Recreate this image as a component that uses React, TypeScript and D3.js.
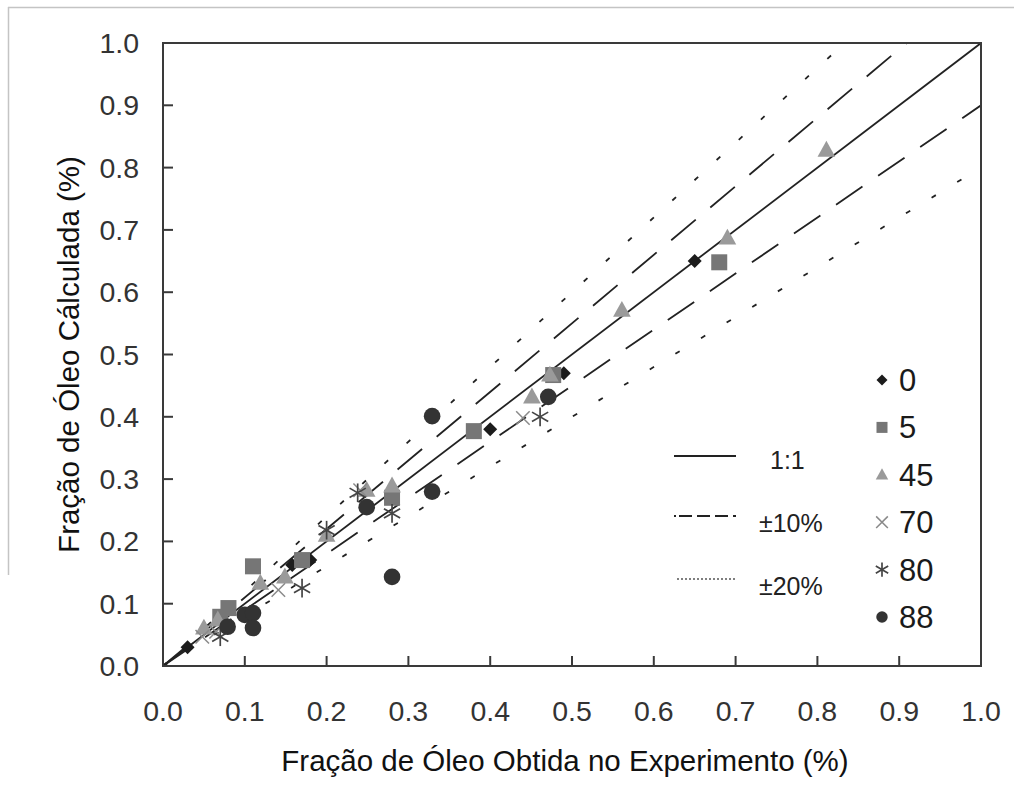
import React from 'react';
import * as d3 from 'd3';

// ---- data ----
const X_TICKS = [0, 0.1, 0.2, 0.3, 0.4, 0.5, 0.6, 0.7, 0.8, 0.9, 1.0];
const Y_TICKS = [0, 0.1, 0.2, 0.3, 0.4, 0.5, 0.6, 0.7, 0.8, 0.9, 1.0];

const series0: [number, number][] = [[0.03, 0.03], [0.158, 0.162], [0.18, 0.17], [0.40, 0.38], [0.49, 0.47], [0.65, 0.65]];
const series5: [number, number][] = [[0.07, 0.079], [0.08, 0.093], [0.11, 0.16], [0.17, 0.17], [0.28, 0.27], [0.38, 0.377], [0.477, 0.467], [0.68, 0.648]];
const series45: [number, number][] = [[0.05, 0.061], [0.067, 0.074], [0.119, 0.133], [0.149, 0.143], [0.20, 0.21], [0.249, 0.282], [0.28, 0.289], [0.451, 0.432], [0.473, 0.467], [0.561, 0.571], [0.69, 0.687], [0.811, 0.828]];
const series70: [number, number][] = [[0.048, 0.047], [0.065, 0.055], [0.141, 0.122], [0.241, 0.282], [0.44, 0.398]];
const series80: [number, number][] = [[0.07, 0.047], [0.17, 0.125], [0.20, 0.218], [0.238, 0.278], [0.28, 0.245], [0.461, 0.40]];
const series88: [number, number][] = [[0.079, 0.063], [0.10, 0.082], [0.11, 0.085], [0.11, 0.061], [0.249, 0.255], [0.28, 0.143], [0.329, 0.28], [0.329, 0.401], [0.471, 0.432]];

const SERIES_NAMES = ['0', '5', '45', '70', '80', '88'];
const SERIES_SHAPES = ['diamond', 'square', 'triangle', 'x', 'asterisk', 'circle'];
const SERIES_COLORS = ['#1c1c1c', '#767676', '#9a9a9a', '#8a8a8a', '#444444', '#333333'];
const SERIES_DATA = [series0, series5, series45, series70, series80, series88];

const REF_FACTORS = [1, 1.1, 0.9, 1.2, 0.8];
const REF_STYLES = ['solid', 'dash', 'dash', 'dot', 'dot'];
const REF_LEGEND = ['1:1', '±10%', '±20%'];

const FONT = '"Liberation Sans", Arial, sans-serif';

function Marker({ shape, cx, cy, s, color }: { shape: string; cx: number; cy: number; s: number; color: string }) {
  if (shape === 'diamond') {
    const r = s * 0.5;
    return <path d={`M${cx},${cy - r}L${cx + r},${cy}L${cx},${cy + r}L${cx - r},${cy}Z`} fill={color} />;
  }
  if (shape === 'square') {
    const h = s * 0.5;
    return <rect x={cx - h} y={cy - h} width={s} height={s} fill={color} />;
  }
  if (shape === 'triangle') {
    const h = s * 0.55;
    return <path d={`M${cx},${cy - h}L${cx + s * 0.52},${cy + h * 0.7}L${cx - s * 0.52},${cy + h * 0.7}Z`} fill={color} />;
  }
  if (shape === 'x') {
    const h = s * 0.45;
    return (
      <g stroke={color} strokeWidth={1.5}>
        <line x1={cx - h} y1={cy - h} x2={cx + h} y2={cy + h} />
        <line x1={cx - h} y1={cy + h} x2={cx + h} y2={cy - h} />
      </g>
    );
  }
  if (shape === 'asterisk') {
    const h = s * 0.55;
    const c = Math.cos(Math.PI / 6) * h, d = Math.sin(Math.PI / 6) * h;
    return (
      <g stroke={color} strokeWidth={1.7}>
        <line x1={cx} y1={cy - h} x2={cx} y2={cy + h} />
        <line x1={cx - c} y1={cy - d} x2={cx + c} y2={cy + d} />
        <line x1={cx - c} y1={cy + d} x2={cx + c} y2={cy - d} />
      </g>
    );
  }
  return <circle cx={cx} cy={cy} r={s * 0.52} fill={color} />;
}

export default function App() {
  const x = d3.scaleLinear().domain([0, 1]).range([163, 981]);
  const y = d3.scaleLinear().domain([0, 1]).range([666, 43]);
  const line = d3.line<[number, number]>().x(d => x(d[0])).y(d => y(d[1]));

  const dashFor = (st: string) => (st === 'solid' ? undefined : st === 'dash' ? '32,19' : '5,25');

  const markerSizes = [14, 16, 17, 15, 17, 16];
  const legendSizes = [11, 11, 12, 13, 13, 11];
  const legendRowY = d3.scaleLinear().domain([0, 5]).range([380, 617]);

  return (
    <svg width={1014} height={787} style={{ position: 'absolute', left: 0, top: 0, background: '#fff' }} fontFamily={FONT}>
      <defs>
        <clipPath id="plotclip">
          <rect x={x(0)} y={y(1)} width={x(1) - x(0)} height={y(0) - y(1)} />
        </clipPath>
      </defs>
      {/* outer frame lines */}
      <line x1={8} y1={7.5} x2={1014} y2={7.5} stroke="#c4c4c4" strokeWidth={1.5} />
      <line x1={8.5} y1={7} x2={8.5} y2={575} stroke="#c4c4c4" strokeWidth={1.5} />

      {/* reference lines */}
      <g clipPath="url(#plotclip)">
        {REF_FACTORS.map((k, i) => (
          <path key={i} d={line([[0, 0], [1, k]]) || ''} stroke="#222" strokeWidth={1.8} fill="none"
            strokeDasharray={dashFor(REF_STYLES[i])} />
        ))}
      </g>

      {/* axes box */}
      <rect x={x(0)} y={y(1)} width={x(1) - x(0)} height={y(0) - y(1)} fill="none" stroke="#3a3a3a" strokeWidth={2} />
      {X_TICKS.slice(1, -1).map(t => (
        <line key={'xt' + t} x1={x(t)} x2={x(t)} y1={y(0)} y2={y(0) - 10} stroke="#3a3a3a" strokeWidth={2} />
      ))}
      {Y_TICKS.slice(1, -1).map(t => (
        <line key={'yt' + t} x1={x(0)} x2={x(0) + 10} y1={y(t)} y2={y(t)} stroke="#3a3a3a" strokeWidth={2} />
      ))}
      {X_TICKS.map(t => (
        <text key={'xl' + t} x={x(t)} y={721} textAnchor="middle" fontSize={28.5} fill="#333">{t.toFixed(1)}</text>
      ))}
      {Y_TICKS.map(t => (
        <text key={'yl' + t} x={139} y={y(t) + 10} textAnchor="end" fontSize={28.5} fill="#333">{t.toFixed(1)}</text>
      ))}

      {/* axis titles */}
      <text x={565} y={771} textAnchor="middle" fontSize={29.5} fill="#111">Fração de Óleo Obtida no Experimento (%)</text>
      <text transform={`translate(79,${(y(0) + y(1)) / 2}) rotate(-90)`} textAnchor="middle" fontSize={29.5} fill="#111">Fração de Óleo Cálculada (%)</text>

      {/* data */}
      {SERIES_DATA.map((data, si) => (
        <g key={'s' + si}>
          {data.map((d, j) => (
            <Marker key={j} shape={SERIES_SHAPES[si]} cx={x(d[0])} cy={y(d[1])} s={markerSizes[si]} color={SERIES_COLORS[si]} />
          ))}
        </g>
      ))}

      {/* line-style legend */}
      {REF_LEGEND.map((lab, i) => {
        const ly = [456, 516, 579][i];
        const st = ['solid', 'dash', 'dot'][i];
        return (
          <g key={'rl' + i}>
            {st === 'solid' && <line x1={674} x2={736} y1={ly} y2={ly} stroke="#222" strokeWidth={1.8} />}
            {st === 'dash' && (
              <g stroke="#222" strokeWidth={1.8}>
                <line x1={674} x2={676} y1={ly} y2={ly} />
                <line x1={679} x2={736} y1={ly} y2={ly} strokeDasharray="13,5" />
              </g>
            )}
            {st === 'dot' && <line x1={677} x2={736} y1={ly} y2={ly} stroke="#555" strokeWidth={1.5} strokeDasharray="2,2" />}
            <text x={i === 0 ? 770 : 759} y={[469, 532, 595][i]} fontSize={25} fill="#222">{lab}</text>
          </g>
        );
      })}

      {/* marker legend */}
      {SERIES_NAMES.map((n, i) => (
        <g key={'ml' + i}>
          <Marker shape={SERIES_SHAPES[i]} cx={882} cy={legendRowY(i)} s={legendSizes[i]} color={SERIES_COLORS[i]} />
          <text x={899} y={legendRowY(i) + 11} fontSize={31} fill="#1a1a1a">{n}</text>
        </g>
      ))}
    </svg>
  );
}
